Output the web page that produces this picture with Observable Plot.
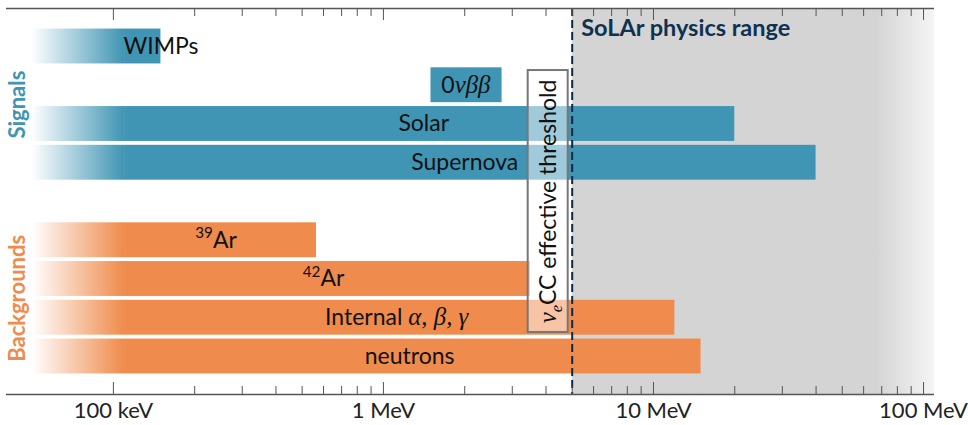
<!DOCTYPE html>
<html>
<head>
<meta charset="utf-8">
<script src="https://cdn.jsdelivr.net/npm/d3@7"></script>
<script src="https://cdn.jsdelivr.net/npm/@observablehq/plot@0.6"></script>
<style>
  body { margin: 0; background: #fff; }
</style>
</head>
<body>
<div id="chart"></div>
<script>
// Energy ranges (MeV) of the signals and backgrounds seen in a liquid-argon detector.
// Markup in labels: $...$ = math italic, ^{..} = superscript, _{..} = subscript.
const bandNames  = ["WIMPs", "0$νββ$", "Solar", "Supernova", "^{39}Ar", "^{42}Ar", "Internal $α, β, γ$", "neutrons"];
const bandGroup  = ["signal", "signal", "signal", "signal", "background", "background", "background", "background"];
const bandRow    = [0, 1, 2, 3, 5, 6, 7, 8];
const bandLow    = [0.05, 1.5, 0.05, 0.05, 0.05, 0.05, 0.05, 0.05];
const bandHigh   = [0.15, 2.75, 20, 40, 0.565, 3.5, 12, 15];
const bandFaded  = [true, false, true, true, true, true, true, true];
const labelAt    = [0.15, 2.02, 1.41, 2.0, 0.24, 0.6, 1.12, 1.25];
const fadeTo     = 0.11;   // low-energy ends fade out below this energy

const groupNames = ["Signals", "Backgrounds"];
const groupKeys  = ["signal", "background"];
const groupRows  = [1.5, 6.5];

const threshold  = 5;      // νe CC effective threshold, MeV
const majorTicks = [0.1, 1, 10, 100];
const tickLabels = ["100 keV", "1 MeV", "10 MeV", "100 MeV"];
const minorTicks = [0.1, 1, 10].flatMap(d => [2, 3, 4, 5, 6, 7, 8, 9].map(k => d * k));

const blue = "#4095b4";
const orange = "#ef8b4c";
const axisColor = "#555";

const bands = bandNames.map((label, i) => ({
  label, group: bandGroup[i], row: bandRow[i], low: bandLow[i], high: bandHigh[i],
  faded: bandFaded[i], labelAt: labelAt[i]
}));
const groups = groupNames.map((name, i) => ({name, group: groupKeys[i], row: groupRows[i]}));

const W = 968, H = 425;
const mT = 8, mB = 31;
const frameH = H - mT - mB;
const xDomain = [0.0402, 109.8];
const yDomain = [-0.981, 8.981];
const half = 0.45;

const chart = Plot.plot({
  width: W, height: H,
  marginLeft: 6, marginRight: 34, marginTop: mT, marginBottom: mB,
  style: {fontFamily: "Lato, sans-serif", background: "white", color: "#111"},
  x: {type: "log", domain: xDomain, axis: null},
  y: {domain: yDomain, range: [mT, H - mB], axis: null},
  color: {domain: groupKeys, range: [blue, orange]},
  marks: [
    // SoLAr physics range: shaded region above the threshold
    Plot.rect([threshold], {x1: d => d, x2: xDomain[1], fill: "url(#rangeFade)"}),

    // faded low-energy ends
    Plot.rect(bands.filter(d => d.faded && d.group === "signal"), {
      x1: "low", x2: fadeTo, y1: d => d.row - half, y2: d => d.row + half, fill: "url(#fadeBlue)"
    }),
    Plot.rect(bands.filter(d => d.faded && d.group === "background"), {
      x1: "low", x2: fadeTo, y1: d => d.row - half, y2: d => d.row + half, fill: "url(#fadeOrange)"
    }),
    // solid parts of the ranges
    Plot.rect(bands, {
      x1: d => d.faded ? fadeTo : d.low, x2: "high",
      y1: d => d.row - half, y2: d => d.row + half, fill: "group"
    }),
    Plot.text(bands, {x: "labelAt", y: "row", text: "label", fontSize: 23, fill: "#111"}),

    // group titles
    Plot.text(groups, {
      y: "row", frameAnchor: "left", textAnchor: "middle", dx: 11, rotate: -90, text: "name",
      fill: "group", fontWeight: "bold", fontSize: 22
    }),

    // threshold annotation
    Plot.rect([threshold], {
      x1: d => d, x2: d => d, y1: 0.62, y2: 7.38, insetLeft: -44, insetRight: 4,
      fill: "white", fillOpacity: 0.5, stroke: "#777", strokeWidth: 2
    }),
    Plot.text([threshold], {
      x: d => d, y: 4, dx: -24, rotate: -90,
      text: () => "$ν_{e}$CC effective threshold", fontSize: 23, fill: "#111"
    }),
    Plot.ruleX([threshold], {stroke: "#0d2b48", strokeWidth: 2, strokeDasharray: "8,4"}),
    Plot.text([threshold], {
      x: d => d, frameAnchor: "top", dx: 9, dy: 11, textAnchor: "start", lineAnchor: "top",
      text: () => "SoLAr physics range", fontWeight: "bold", fontSize: 23.5, fill: "#0f3152"
    }),

    // axes: lines on top and bottom, ticks pointing inward
    Plot.ruleY(yDomain, {stroke: axisColor, strokeWidth: 1.5}),
    Plot.ruleX(majorTicks, {insetBottom: frameH - 12, stroke: axisColor}),
    Plot.ruleX(majorTicks, {insetTop: frameH - 12, stroke: axisColor}),
    Plot.ruleX(minorTicks, {insetBottom: frameH - 8, stroke: axisColor}),
    Plot.ruleX(minorTicks, {insetTop: frameH - 8, stroke: axisColor}),
    Plot.text(majorTicks, {
      x: d => d, frameAnchor: "bottom", lineAnchor: "top", dy: 8,
      text: (d, i) => tickLabels[i], fontSize: 22, fill: "#222"
    })
  ]
});

document.getElementById("chart").appendChild(chart);

// gradients used by the faded ends and the shaded range
const svg = d3.select(chart);
const defs = svg.insert("defs", ":first-child");
function fade(id, color) {
  const g = defs.append("linearGradient").attr("id", id)
    .attr("x1", 0).attr("x2", 1).attr("y1", 0).attr("y2", 0);
  g.append("stop").attr("offset", 0).attr("stop-color", color).attr("stop-opacity", 0);
  g.append("stop").attr("offset", 1).attr("stop-color", color).attr("stop-opacity", 1);
}
fade("fadeBlue", blue);
fade("fadeOrange", orange);
const rg = defs.append("linearGradient").attr("id", "rangeFade")
  .attr("x1", 0).attr("x2", 1).attr("y1", 0).attr("y2", 0);
rg.append("stop").attr("offset", 0).attr("stop-color", "#d4d4d4");
rg.append("stop").attr("offset", 0.84).attr("stop-color", "#d4d4d4");
rg.append("stop").attr("offset", 1).attr("stop-color", "#f5f5f5");

// render label markup as tspans
const NS = "http://www.w3.org/2000/svg";
function richify(node) {
  const src = node.textContent;
  if (!/[$^_]/.test(src)) return;
  const fs = parseFloat(getComputedStyle(node).fontSize) || 20;
  while (node.firstChild) node.removeChild(node.firstChild);
  const re = /\$|\^\{([^}]*)\}|_\{([^}]*)\}|[^$^_]+/g;
  let math = false, shift = 0, m;
  while ((m = re.exec(src))) {
    if (m[0] === "$") { math = !math; continue; }
    let content = m[0], s = 0, size = fs;
    if (m[1] !== undefined) { content = m[1]; s = -0.42 * fs; size = 0.66 * fs; }
    else if (m[2] !== undefined) { content = m[2]; s = 0.28 * fs; size = 0.66 * fs; }
    const t = document.createElementNS(NS, "tspan");
    t.setAttribute("dy", s - shift);
    shift = s;
    if (math) {
      t.setAttribute("font-family", "Liberation Serif, DejaVu Serif, serif");
      t.setAttribute("font-style", "italic");
      size *= 1.08;
    }
    t.setAttribute("font-size", size);
    t.textContent = content;
    node.appendChild(t);
  }
}
svg.selectAll("text").each(function() { richify(this); });
</script>
</body>
</html>
